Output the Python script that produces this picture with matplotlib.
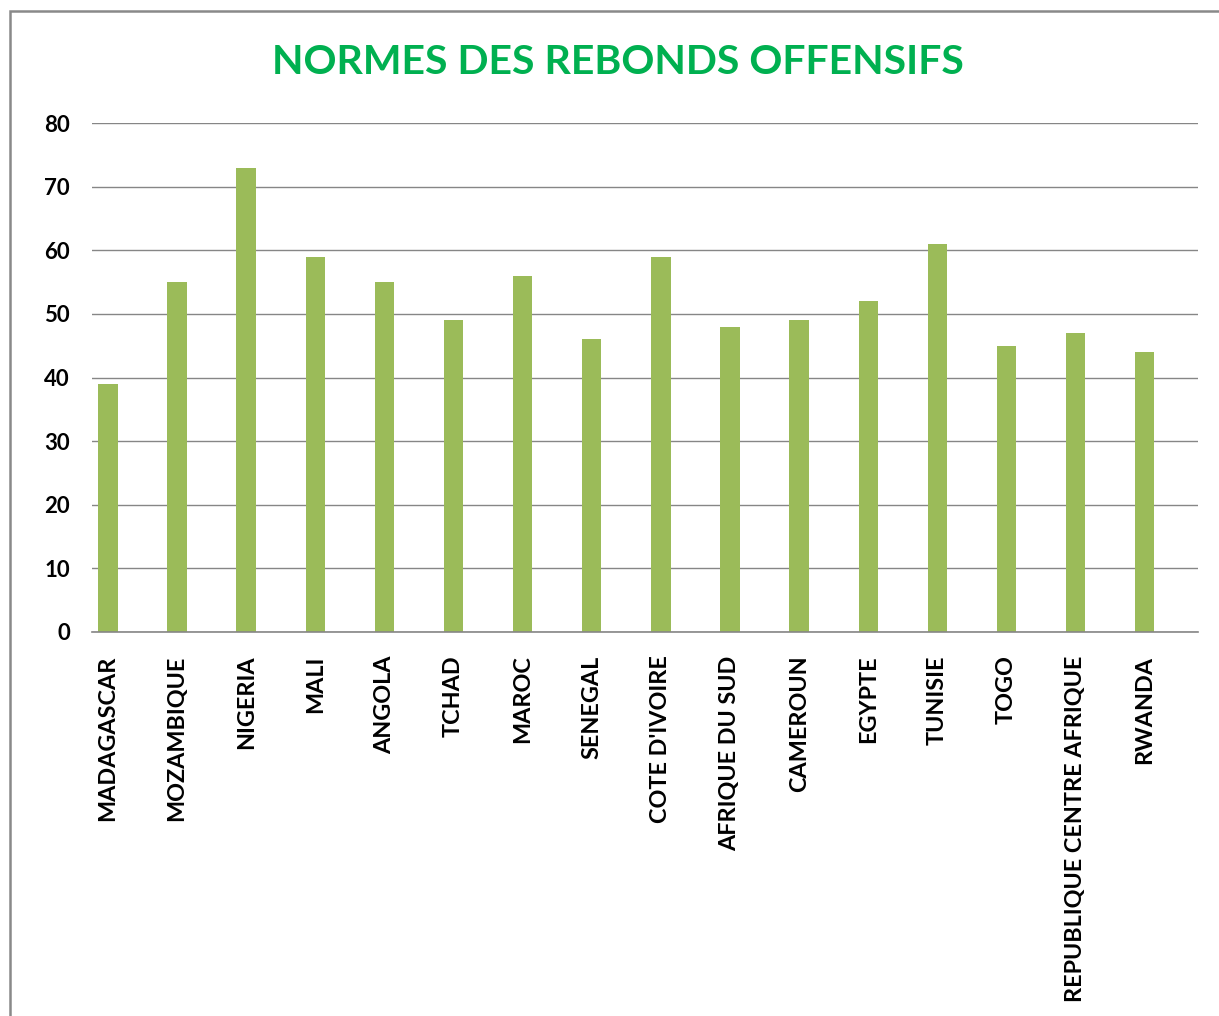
import matplotlib.pyplot as plt
from matplotlib.patches import Rectangle
import numpy as np

# données
pays = [
    'MADAGASCAR', 'MOZAMBIQUE', 'NIGERIA', 'MALI', 'ANGOLA', 'TCHAD', 'MAROC', 'SENEGAL',
    "COTE D'IVOIRE", 'AFRIQUE DU SUD', 'CAMEROUN', 'EGYPTE', 'TUNISIE', 'TOGO',
    'REPUBLIQUE CENTRE AFRIQUE', 'RWANDA'
]
rebonds = [39, 55, 73, 59, 55, 49, 56, 46, 59, 48, 49, 52, 61, 45, 47, 44]
y_ticks = [0, 10, 20, 30, 40, 50, 60, 70, 80]

plt.rcParams['font.family'] = ['Lato', 'DejaVu Sans']

W, H = 1219, 1016
fig = plt.figure(figsize=(W / 100, H / 100), dpi=100)

# cadre du graphique
fig.patches.append(Rectangle((10 / W, -0.05), 1.2, 1 - 11 / H + 0.05, transform=fig.transFigure,
                             fill=False, edgecolor='#898989', linewidth=1.8))

ax = fig.add_axes([92 / W, 1 - 632 / H, (1198 - 92) / W, (632 - 123) / H])
# les barres sont décalées à gauche dans leur catégorie (comme dans Excel avec 2 séries)
x = np.arange(len(pays)) - 0.27
ax.bar(x, rebonds, width=0.28, color='#9BBB59', zorder=2)

ax.set_xlim(-0.5, len(pays) - 0.5)
ax.set_ylim(0, 80)
ax.set_yticks(y_ticks)
ax.set_yticklabels([str(v) for v in y_ticks], fontsize=16, fontweight='bold')
ax.set_xticks(x)
ax.set_xticklabels(pays, rotation=90, fontsize=16.8, fontweight='bold', va='top')
ax.tick_params(length=0, pad=16)
ax.tick_params(axis='x', pad=17)
ax.grid(axis='y', color='#868686', linewidth=1, zorder=0)
for s in ['top', 'right', 'left']:
    ax.spines[s].set_visible(False)
ax.spines['bottom'].set_color('#868686')
ax.spines['bottom'].set_linewidth(1.2)

fig.text(618 / W, 1 - 63 / H, 'NORMES DES REBONDS OFFENSIFS', ha='center', va='center',
         fontsize=29.5, fontweight='bold', color='#00B050')

fig.savefig('out.png', dpi=100)
